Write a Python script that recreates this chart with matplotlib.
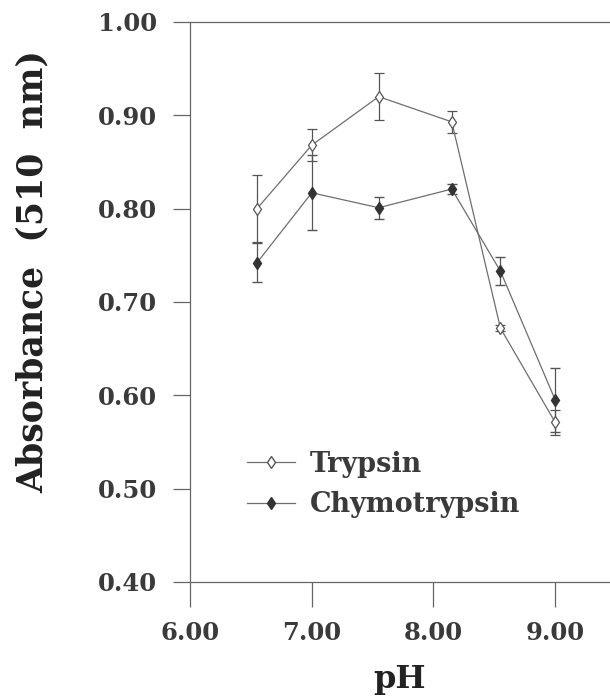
import matplotlib.pyplot as plt
from matplotlib.lines import Line2D

# pH values and absorbance readings (510 nm)
ph = [6.55, 7.0, 7.55, 8.15, 8.55, 9.0]
trypsin = [0.800, 0.868, 0.920, 0.893, 0.672, 0.571]
trypsin_err = [0.036, 0.017, 0.025, 0.012, 0.003, 0.013]
chymo = [0.742, 0.817, 0.801, 0.821, 0.733, 0.595]
chymo_err = [0.021, 0.040, 0.012, 0.005, 0.015, 0.034]

xticks = [6.0, 7.0, 8.0, 9.0]
yticks = [0.40, 0.50, 0.60, 0.70, 0.80, 0.90, 1.00]

txt = '#3a3a3a'
ln = '#6e6e6e'
font = 'DejaVu Serif'

fig = plt.figure(figsize=(6.1, 6.96), dpi=100)
ax = fig.add_axes([0.3115, 0.1638, 0.6885, 0.8046])

ax.errorbar(ph, trypsin, yerr=trypsin_err, color=ln, lw=0.9, marker='d',
            ms=6.5, mfc='white', mec='#555555', mew=0.9, capsize=3.5,
            elinewidth=0.9, ecolor='#555555')
ax.errorbar(ph, chymo, yerr=chymo_err, color=ln, lw=0.9, marker='d',
            ms=6.5, mfc='#333333', mec='#333333', capsize=3.5,
            elinewidth=0.9, ecolor='#555555')

ax.set_xlim(6.0, 9.45)
ax.set_ylim(0.40, 1.00)
ax.set_xticks(xticks)
ax.set_yticks(yticks)
ax.set_xticklabels(['%.2f' % v for v in xticks])
ax.set_yticklabels(['%.2f' % v for v in yticks])

for s in ['left', 'bottom', 'top']:
    ax.spines[s].set_color('#666666')
    ax.spines[s].set_linewidth(0.9)
ax.spines['right'].set_visible(False)

ax.tick_params(axis='y', direction='out', length=12, width=0.9, color='#666666',
               pad=12, labelsize=17.5, labelcolor=txt)
ax.tick_params(axis='x', direction='out', length=18, width=0.9, color='#666666',
               pad=10, labelsize=17.5, labelcolor=txt)
for lab in ax.get_xticklabels() + ax.get_yticklabels():
    lab.set_fontfamily(font)
    lab.set_fontweight('bold')

ax.set_xlabel('pH', fontsize=23, fontweight='bold', family=font, color='#222222',
              labelpad=14)
ax.set_ylabel('Absorbance  (510  nm)', fontsize=25, fontweight='bold', family=font,
              color='#222222')
ax.yaxis.set_label_coords(-0.335, 0.554)

handles = [
    Line2D([], [], color=ln, lw=0.9, marker='d', ms=6.5, mfc='white', mec='#555555'),
    Line2D([], [], color=ln, lw=0.9, marker='d', ms=6.5, mfc='#333333', mec='#333333'),
]
leg = ax.legend(handles, ['Trypsin', 'Chymotrypsin'], loc='upper left',
                bbox_to_anchor=(0.078, 0.278), frameon=False, handlelength=1.75,
                handletextpad=0.55, labelspacing=0.5,
                prop={'family': font, 'weight': 'bold', 'size': 19.5})
for t in leg.get_texts():
    t.set_color(txt)

fig.savefig('out.png', dpi=100)
